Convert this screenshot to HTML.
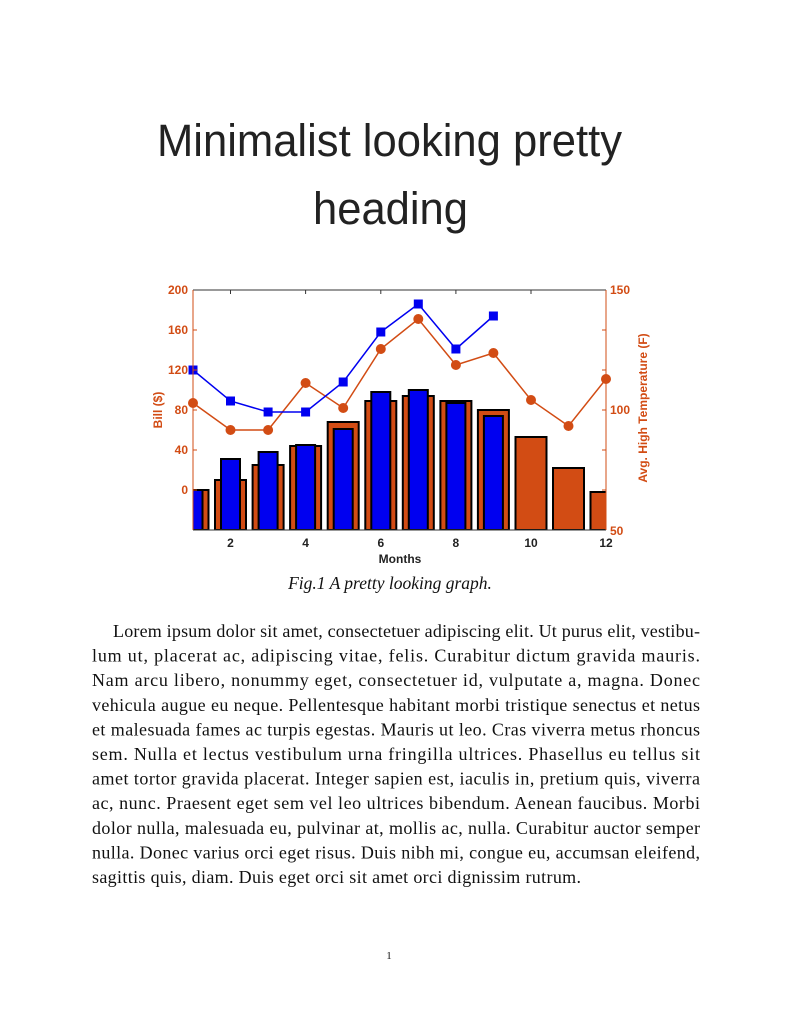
<!DOCTYPE html>
<html><head><meta charset="utf-8"><style>
html,body{margin:0;padding:0;background:#fff;}
svg{display:block;}
</style></head><body>
<svg width="794" height="1028" viewBox="0 0 794 1028" xmlns="http://www.w3.org/2000/svg">
<g font-family="Liberation Sans, sans-serif" fill="#222">
<text x="157" y="156" font-size="45" textLength="465" lengthAdjust="spacingAndGlyphs">Minimalist looking pretty</text>
<text x="313" y="224" font-size="45" textLength="155" lengthAdjust="spacingAndGlyphs">heading</text>
</g>
<defs><clipPath id="c"><rect x="193" y="290" width="413" height="240"/></clipPath></defs>
<g clip-path="url(#c)" stroke="#000" stroke-width="2">
<g fill="#d24c14">
<rect x="177.5" y="490" width="31" height="40"/>
<rect x="215" y="480" width="31" height="50"/>
<rect x="252.6" y="465" width="31" height="65"/>
<rect x="290.1" y="446" width="31" height="84"/>
<rect x="327.7" y="422" width="31" height="108"/>
<rect x="365.3" y="401" width="31" height="129"/>
<rect x="402.8" y="396" width="31" height="134"/>
<rect x="440.4" y="401" width="31" height="129"/>
<rect x="477.9" y="410" width="31" height="120"/>
<rect x="515.5" y="437" width="31" height="93"/>
<rect x="553" y="468" width="31" height="62"/>
<rect x="590.5" y="492" width="31" height="38"/>
</g>
<g fill="#0000f0">
<rect x="183.5" y="490" width="19" height="40"/>
<rect x="221" y="459" width="19" height="71"/>
<rect x="258.6" y="452" width="19" height="78"/>
<rect x="296.1" y="445" width="19" height="85"/>
<rect x="333.7" y="429" width="19" height="101"/>
<rect x="371.3" y="392" width="19" height="138"/>
<rect x="408.8" y="390" width="19" height="140"/>
<rect x="446.4" y="403" width="19" height="127"/>
<rect x="483.9" y="416" width="19" height="114"/>
</g>
</g>
<polyline fill="none" stroke="#d24c14" stroke-width="1.5" points="193,403 230.5,430 268.1,430 305.6,383 343.2,408 380.8,349 418.3,319 455.9,365 493.4,353 531,400 568.5,426 606,379"/>
<g fill="#d24c14">
<circle cx="193" cy="403" r="5"/><circle cx="230.5" cy="430" r="5"/><circle cx="268.1" cy="430" r="5"/><circle cx="305.6" cy="383" r="5"/><circle cx="343.2" cy="408" r="5"/><circle cx="380.8" cy="349" r="5"/><circle cx="418.3" cy="319" r="5"/><circle cx="455.9" cy="365" r="5"/><circle cx="493.4" cy="353" r="5"/><circle cx="531" cy="400" r="5"/><circle cx="568.5" cy="426" r="5"/><circle cx="606" cy="379" r="5"/>
</g>
<polyline fill="none" stroke="#0000f0" stroke-width="1.5" points="193,370 230.5,401 268.1,412 305.6,412 343.2,382 380.8,332 418.3,304 455.9,349 493.4,316"/>
<g fill="#0000f0">
<rect x="188.5" y="365.5" width="9" height="9"/><rect x="226" y="396.5" width="9" height="9"/><rect x="263.6" y="407.5" width="9" height="9"/><rect x="301.1" y="407.5" width="9" height="9"/><rect x="338.7" y="377.5" width="9" height="9"/><rect x="376.3" y="327.5" width="9" height="9"/><rect x="413.8" y="299.5" width="9" height="9"/><rect x="451.4" y="344.5" width="9" height="9"/><rect x="488.9" y="311.5" width="9" height="9"/>
</g>
<line x1="193" y1="290" x2="606" y2="290" stroke="#333" stroke-width="1"/>
<line x1="193" y1="530" x2="606" y2="530" stroke="#333" stroke-width="1"/>
<line x1="193" y1="290" x2="193" y2="530" stroke="#d24c14" stroke-width="1"/>
<line x1="606" y1="290" x2="606" y2="530" stroke="#d24c14" stroke-width="1"/>
<g stroke="#333" stroke-width="1">
<line x1="230.5" y1="290" x2="230.5" y2="294"/><line x1="305.6" y1="290" x2="305.6" y2="294"/><line x1="380.8" y1="290" x2="380.8" y2="294"/><line x1="455.9" y1="290" x2="455.9" y2="294"/><line x1="531" y1="290" x2="531" y2="294"/>
</g>
<g stroke="#d24c14" stroke-width="1">
<line x1="193" y1="330" x2="197" y2="330"/><line x1="193" y1="370" x2="197" y2="370"/><line x1="193" y1="410" x2="197" y2="410"/><line x1="193" y1="450" x2="197" y2="450"/><line x1="193" y1="490" x2="197" y2="490"/>
<line x1="602" y1="330" x2="606" y2="330"/><line x1="602" y1="370" x2="606" y2="370"/><line x1="602" y1="410" x2="606" y2="410"/><line x1="602" y1="450" x2="606" y2="450"/><line x1="602" y1="490" x2="606" y2="490"/>
</g>
<g font-family="Liberation Sans, sans-serif" font-weight="bold" font-size="12" fill="#d24c14">
<g text-anchor="end">
<text x="188" y="294">200</text><text x="188" y="334">160</text><text x="188" y="374">120</text><text x="188" y="414">80</text><text x="188" y="454">40</text><text x="188" y="494">0</text>
</g>
<text x="610" y="294">150</text><text x="610" y="414">100</text><text x="610" y="535">50</text>
<text transform="translate(162,410) rotate(-90)" text-anchor="middle">Bill ($)</text>
<text transform="translate(647,408) rotate(-90)" text-anchor="middle">Avg. High Temperature (F)</text>
</g>
<g font-family="Liberation Sans, sans-serif" font-weight="bold" font-size="12" fill="#222" text-anchor="middle">
<text x="230.5" y="547">2</text><text x="305.6" y="547">4</text><text x="380.8" y="547">6</text><text x="455.9" y="547">8</text><text x="531" y="547">10</text><text x="606" y="547">12</text>
<text x="400" y="563">Months</text>
</g>
<text x="390" y="589" font-family="Liberation Serif, serif" font-style="italic" font-size="17.5" text-anchor="middle" fill="#111">Fig.1 A pretty looking graph.</text>
<g font-family="Liberation Serif, serif" font-size="18" fill="#111">
<text x="113" y="637" textLength="587" lengthAdjust="spacing">Lorem ipsum dolor sit amet, consectetuer adipiscing elit. Ut purus elit, vestibu-</text>
<text x="92" y="661.6" textLength="608" lengthAdjust="spacing">lum ut, placerat ac, adipiscing vitae, felis. Curabitur dictum gravida mauris.</text>
<text x="92" y="686.2" textLength="608" lengthAdjust="spacing">Nam arcu libero, nonummy eget, consectetuer id, vulputate a, magna. Donec</text>
<text x="92" y="710.8" textLength="608" lengthAdjust="spacing">vehicula augue eu neque. Pellentesque habitant morbi tristique senectus et netus</text>
<text x="92" y="735.4" textLength="608" lengthAdjust="spacing">et malesuada fames ac turpis egestas. Mauris ut leo. Cras viverra metus rhoncus</text>
<text x="92" y="760" textLength="608" lengthAdjust="spacing">sem. Nulla et lectus vestibulum urna fringilla ultrices. Phasellus eu tellus sit</text>
<text x="92" y="784.6" textLength="608" lengthAdjust="spacing">amet tortor gravida placerat. Integer sapien est, iaculis in, pretium quis, viverra</text>
<text x="92" y="809.2" textLength="608" lengthAdjust="spacing">ac, nunc. Praesent eget sem vel leo ultrices bibendum. Aenean faucibus. Morbi</text>
<text x="92" y="833.8" textLength="608" lengthAdjust="spacing">dolor nulla, malesuada eu, pulvinar at, mollis ac, nulla. Curabitur auctor semper</text>
<text x="92" y="858.4" textLength="608" lengthAdjust="spacing">nulla. Donec varius orci eget risus. Duis nibh mi, congue eu, accumsan eleifend,</text>
<text x="92" y="883" textLength="489" lengthAdjust="spacing">sagittis quis, diam. Duis eget orci sit amet orci dignissim rutrum.</text>
</g>
<text x="389" y="959" font-family="Liberation Serif, serif" font-size="11" text-anchor="middle" fill="#111">1</text>
</svg>
</body></html>
